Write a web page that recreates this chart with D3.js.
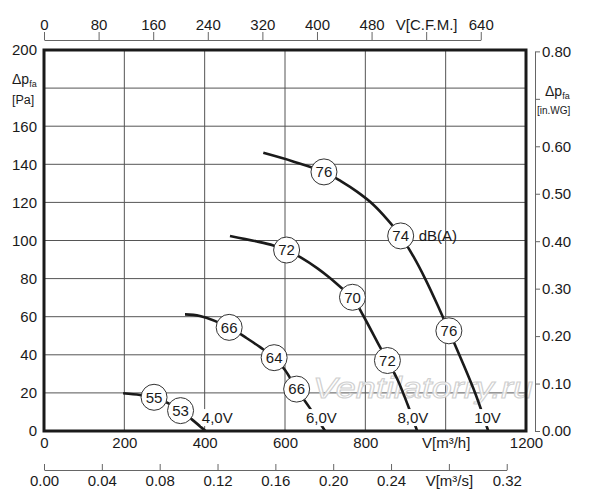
<!DOCTYPE html>
<html lang="en">
<head>
    <meta charset="UTF-8">
    <title>Fan curves</title>
    <script src="https://d3js.org/d3.v7.min.js"></script>
    <style>
        body { margin: 0; background: white; }
        svg { font-family: "Liberation Sans", Arial, sans-serif; }
        .axis text { font-size: 15px; fill: #1a1a1a; }
        .axis path, .axis line { stroke: #666; }
    </style>
</head>
<body>
<div id="chart"></div>
<script>
// fan curves, V in m3/h against static pressure in Pa
const curve4V  = [[197, 19.8], [239, 18.9], [274, 17.7], [310, 14.5], [340, 10.7], [368, 6.1], [402, 0]];
const curve6V  = [[351, 61.2], [388, 60.4], [461, 54.4], [505, 48.7], [538, 44], [573, 38.5], [600, 32], [629, 22], [662, 12], [700, 0]];
const curve8V  = [[463, 102.4], [530, 99.5], [571, 97.4], [604, 95], [640, 91], [680, 85.5], [712, 80.3], [740, 75.2], [768, 70.2], [795, 60.5], [836, 44.3], [855, 37], [880, 27], [905, 14], [929, 0]];
const curve10V = [[546, 146], [620, 141.5], [697, 136], [740, 131], [780, 125.5], [820, 118.8], [855, 111], [888, 102.4], [920, 91.5], [950, 79.5], [980, 66], [1008, 52.6], [1040, 37], [1075, 19], [1106, 0]];
const curves = [curve4V, curve6V, curve8V, curve10V];

// sound level bubbles on the curves
const soundQ  = [274, 340, 461, 573, 629, 604, 768, 855, 697, 888, 1008];
const soundP  = [17.7, 10.7, 54.4, 38.5, 22, 95, 70.2, 37, 136, 102.4, 52.6];
const soundDb = ["55", "53", "66", "64", "66", "72", "70", "72", "76", "74", "76"];

// voltage labels at the foot of each curve
const voltText = ["4,0V", "6,0V", "8,0V", "10V"];
const voltQ    = [393, 652, 880, 1071];
const voltP    = 7;

// tick values
const flowTicks  = [0, 200, 400, 600, 800, 1000, 1200];
const presTicks  = [0, 20, 40, 60, 80, 100, 120, 140, 160, 180, 200];
const cfmTicks   = [0, 80, 160, 240, 320, 400, 480, 560, 640];
const m3sTicks   = [0, 0.04, 0.08, 0.12, 0.16, 0.20, 0.24, 0.28, 0.32];
const inwgTicks  = [0, 0.1, 0.2, 0.3, 0.4, 0.5, 0.6, 0.7, 0.8];

const W = 600, H = 500;
const svg = d3.select("#chart").append("svg").attr("width", W).attr("height", H);

const x = d3.scaleLinear().domain([0, 1200]).range([44, 526]);
const y = d3.scaleLinear().domain([0, 200]).range([431, 50]);
// secondary unit scales
const xCfm = d3.scaleLinear().domain([0, 640]).range([x(0), x(640 * 1.69901)]);
const xM3s = d3.scaleLinear().domain([0, 0.32]).range([x(0), x(0.32 * 3600)]);
const yIn  = d3.scaleLinear().domain([0, 0.8]).range([y(0), y(0.8 * 249.089)]);

// grid
svg.append("g").selectAll("line").data(flowTicks.slice(1, -1)).join("line")
    .attr("x1", d => x(d)).attr("x2", d => x(d))
    .attr("y1", y(0)).attr("y2", y(200))
    .attr("stroke", "#555").attr("stroke-width", 1);
svg.append("g").selectAll("line").data(presTicks.slice(1, -1)).join("line")
    .attr("x1", x(0)).attr("x2", x(1200))
    .attr("y1", d => y(d)).attr("y2", d => y(d))
    .attr("stroke", "#555").attr("stroke-width", 1);

// watermark
svg.append("text")
    .attr("x", 313).attr("y", 398)
    .attr("textLength", 220).attr("lengthAdjust", "spacingAndGlyphs")
    .style("font-size", "29px").style("font-style", "italic")
    .attr("fill", "white").attr("fill-opacity", 0.85)
    .attr("stroke", "#d0d0d0").attr("stroke-width", 1)
    .text("Ventilatorry.ru");

// curves
const line = d3.line().x(d => x(d[0])).y(d => y(d[1])).curve(d3.curveCatmullRom.alpha(0.5));
svg.append("g").selectAll("path").data(curves).join("path")
    .attr("d", line)
    .attr("fill", "none").attr("stroke", "#1a1a1a").attr("stroke-width", 2.6);

// sound bubbles
const bub = svg.append("g").selectAll("g").data(soundDb).join("g")
    .attr("transform", (d, i) => `translate(${x(soundQ[i])},${y(soundP[i])})`);
bub.append("circle").attr("r", 13).attr("fill", "white").attr("stroke", "#333").attr("stroke-width", 1);
bub.append("text").attr("text-anchor", "middle").attr("dy", "0.36em")
    .style("font-size", "15px").attr("fill", "#1a1a1a").text(d => d);

svg.append("text")
    .attr("x", x(888) + 18).attr("y", y(102.4)).attr("dy", "0.36em")
    .style("font-size", "15px").attr("fill", "#1a1a1a").text("dB(A)");

// voltage labels with a white patch to cut the curve
const volt = svg.append("g").selectAll("g").data(voltText).join("g");
volt.append("rect").attr("fill", "white");
volt.append("text")
    .attr("x", (d, i) => x(voltQ[i])).attr("y", y(voltP)).attr("dy", "0.36em")
    .style("font-size", "15px").attr("fill", "#1a1a1a").text(d => d);
volt.each(function() {
    const b = d3.select(this).select("text").node().getBBox();
    d3.select(this).select("rect")
        .attr("x", b.x - 1).attr("y", b.y).attr("width", b.width + 2).attr("height", b.height);
});

// frame
svg.append("rect")
    .attr("x", x(0)).attr("y", y(200))
    .attr("width", x(1200) - x(0)).attr("height", y(0) - y(200))
    .attr("fill", "none").attr("stroke", "#1a1a1a").attr("stroke-width", 3);

// main axes (labels only)
svg.append("g").attr("class", "axis")
    .attr("transform", `translate(0,${y(0)})`)
    .call(d3.axisBottom(x).tickValues(flowTicks).tickSize(0).tickPadding(6)
        .tickFormat(d => d === 1000 ? "V[m³/h]" : d))
    .call(g => g.select(".domain").remove());

svg.append("g").attr("class", "axis")
    .attr("transform", `translate(${x(0)},0)`)
    .call(d3.axisLeft(y).tickValues(presTicks).tickSize(0).tickPadding(7)
        .tickFormat(d => d === 180 ? "" : d))
    .call(g => g.select(".domain").remove());

// top axis in CFM
svg.append("g").attr("class", "axis")
    .attr("transform", "translate(0,40)")
    .call(d3.axisTop(xCfm).tickValues(cfmTicks).tickSize(8).tickSizeOuter(0).tickPadding(2)
        .tickFormat(d => d === 560 ? "V[C.F.M.]" : d));

// bottom axis in m3/s
svg.append("g").attr("class", "axis")
    .attr("transform", "translate(0,470)")
    .call(d3.axisBottom(xM3s).tickValues(m3sTicks).tickSize(-6).tickSizeOuter(0).tickPadding(5)
        .tickFormat(d => Math.abs(d - 0.28) < 1e-9 ? "V[m³/s]" : d3.format(".2f")(d)));

// right axis in in.WG
svg.append("g").attr("class", "axis")
    .attr("transform", "translate(535,0)")
    .call(d3.axisRight(yIn).tickValues(inwgTicks).tickSize(5).tickSizeOuter(0).tickPadding(2)
        .tickFormat(d => Math.abs(d - 0.7) < 1e-9 ? "" : d3.format(".2f")(d)));

// unit labels
const leftLab = svg.append("text").attr("x", 12).attr("y", 84).attr("fill", "#1a1a1a");
leftLab.append("tspan").style("font-size", "14px").text("Δp");
leftLab.append("tspan").style("font-size", "9px").attr("dy", 3).text("fa");
svg.append("text").attr("x", 12).attr("y", 104).style("font-size", "12.5px").attr("fill", "#1a1a1a").text("[Pa]");

const rightLab = svg.append("text").attr("x", 545).attr("y", 96).attr("fill", "#1a1a1a");
rightLab.append("tspan").style("font-size", "14px").text("Δp");
rightLab.append("tspan").style("font-size", "9px").attr("dy", 3).text("fa");
svg.append("text").attr("x", 537).attr("y", 114).style("font-size", "10px").attr("fill", "#1a1a1a").text("[in.WG]");
</script>
</body>
</html>
